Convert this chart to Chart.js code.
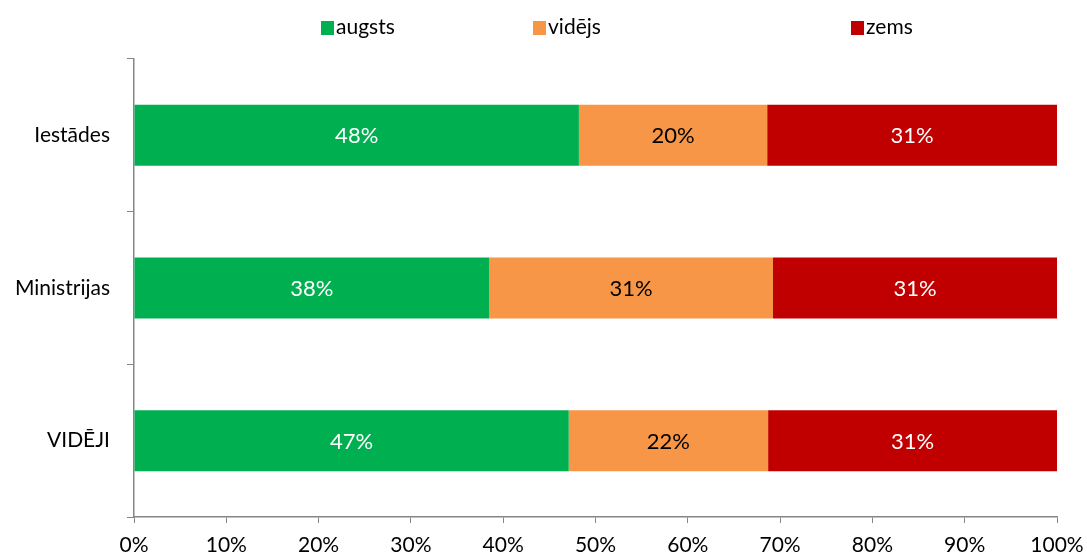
<!DOCTYPE html>
<html>
<head>
<meta charset="utf-8">
<script src="https://cdn.jsdelivr.net/npm/chart.js@4"></script>
<style>
    body { margin: 0; background: #fff; }
    #wrap { width: 1087px; height: 557px; }
</style>
</head>
<body>
<div id="wrap"><canvas id="chart" width="1087" height="557"></canvas></div>
<script>
// Dati
const categories = ['Iestādes', 'Ministrijas', 'VIDĒJI'];
const seriesNames = ['augsts', 'vidējs', 'zems'];
const augsts = [48.2, 38.46, 47.1];
const videjs = [20.4, 30.77, 21.6];
const zems = [31.4, 30.77, 31.3];
const xTicks = [0, 10, 20, 30, 40, 50, 60, 70, 80, 90, 100];

const colors = ['#00B050', '#F79646', '#C00000'];
const labelColors = ['#ffffff', '#000000', '#ffffff'];
const FONT = 'Lato, "Liberation Sans", sans-serif';

// Vērtību uzraksti joslās
const barLabels = {
    id: 'barLabels',
    afterDatasetsDraw(chart) {
        const ctx = chart.ctx;
        ctx.save();
        ctx.font = '22px ' + FONT;
        ctx.textAlign = 'center';
        ctx.textBaseline = 'middle';
        chart.data.datasets.forEach((ds, i) => {
            const meta = chart.getDatasetMeta(i);
            meta.data.forEach((bar, j) => {
                const cx = (bar.x + bar.base) / 2;
                ctx.fillStyle = labelColors[i];
                ctx.fillText(Math.round(ds.data[j]) + '%', cx, bar.y + 1);
            });
        });
        ctx.restore();
    }
};

// Leģenda kā Excel (nevienmērīgi izvietota)
const legendX = [321, 533, 851];
const topLegend = {
    id: 'topLegend',
    afterDraw(chart) {
        const ctx = chart.ctx;
        ctx.save();
        ctx.font = '21px ' + FONT;
        ctx.textBaseline = 'middle';
        chart.data.datasets.forEach((ds, i) => {
            const x = legendX[i];
            ctx.fillStyle = ds.backgroundColor;
            ctx.fillRect(x, 21, 13, 14);
            ctx.fillStyle = '#000';
            ctx.fillText(ds.label, x + 15, 27);
        });
        ctx.restore();
    }
};

const ctx = document.getElementById('chart').getContext('2d');
new Chart(ctx, {
    type: 'bar',
    data: {
        labels: categories,
        datasets: [augsts, videjs, zems].map((d, i) => ({
            label: seriesNames[i],
            data: d,
            backgroundColor: colors[i],
            borderWidth: 0,
            barPercentage: 0.4,
            categoryPercentage: 1.0
        }))
    },
    options: {
        responsive: false,
        animation: false,
        indexAxis: 'y',
        layout: { padding: { top: 59, right: 30, bottom: 0, left: 0 } },
        plugins: {
            legend: { display: false },
            tooltip: { enabled: false }
        },
        scales: {
            x: {
                stacked: true,
                min: 0,
                max: 100,
                afterBuildTicks: (scale) => { scale.ticks = xTicks.map(v => ({ value: v })); },
                afterFit: (scale) => {
                    scale.height = 40;
                    scale.paddingLeft = 0;
                    scale.paddingRight = 0;
                },
                grid: { drawOnChartArea: false, tickLength: 6, color: '#868686' },
                border: { color: '#868686', width: 1.5 },
                ticks: {
                    color: '#000',
                    font: { family: FONT, size: 21 },
                    padding: 10,
                    maxRotation: 0,
                    callback: v => v + '%'
                }
            },
            y: {
                stacked: true,
                afterFit: (scale) => { scale.width = 134; },
                grid: { drawOnChartArea: false, offset: true, tickLength: 7, color: '#868686' },
                border: { color: '#868686', width: 1.5 },
                ticks: {
                    color: '#000',
                    font: { family: FONT, size: 21 },
                    padding: 17
                }
            }
        }
    },
    plugins: [barLabels, topLegend]
});
</script>
</body>
</html>
